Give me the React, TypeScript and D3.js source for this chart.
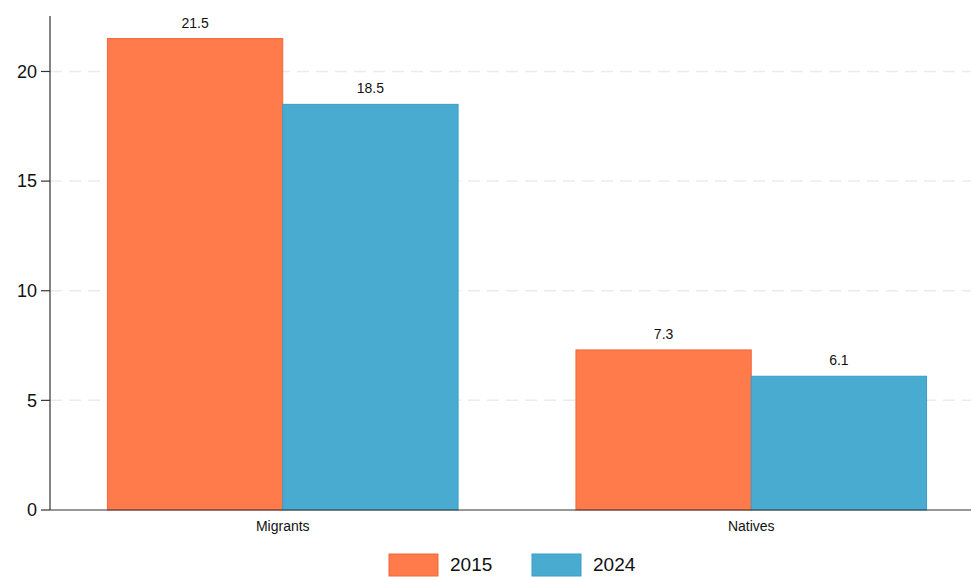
import React from "react";
import * as d3 from "d3";

const categories = ["Migrants", "Natives"];
const years = ["2015", "2024"];
const values2015 = [21.5, 7.3];
const values2024 = [18.5, 6.1];
const yTicks = [0, 5, 10, 15, 20];

const colors = ["#ff7b4b", "#4aabd0"];
const strokes = ["#f2673a", "#3a9dc4"];

const width = 971;
const height = 577;
const margin = { top: 16, right: -13, bottom: 67, left: 50 };

const App: React.FC = () => {
  const series = [values2015, values2024];

  const x = d3
    .scaleBand<string>()
    .domain(categories)
    .range([margin.left, width - margin.right])
    .paddingInner(0.2516)
    .paddingOuter(0.1226);

  const x1 = d3.scaleBand<string>().domain(years).range([0, x.bandwidth()]);

  const y = d3
    .scaleLinear()
    .domain([0, 22.53])
    .range([height - margin.bottom, margin.top]);

  const font = "Helvetica, Arial, 'Liberation Sans', sans-serif";

  return (
    <svg
      width={width}
      height={height}
      style={{ position: "absolute", left: 0, top: 0, background: "#fff" }}
      fontFamily={font}
    >
      {/* gridlines */}
      {yTicks
        .filter((t) => t > 0)
        .map((t) => (
          <line
            key={"g" + t}
            x1={margin.left}
            x2={width}
            y1={y(t)}
            y2={y(t)}
            stroke="#ebebeb"
            strokeWidth={1.5}
            strokeDasharray="12,7"
          />
        ))}

      {/* bars */}
      {categories.map((c, i) => (
        <g key={c} transform={`translate(${x(c)},0)`}>
          {years.map((yr, j) => {
            const v = series[j][i];
            return (
              <g key={yr}>
                <rect
                  x={x1(yr)}
                  y={y(v)}
                  width={x1.bandwidth()}
                  height={y(0) - y(v)}
                  fill={colors[j]}
                  stroke={strokes[j]}
                  strokeWidth={1}
                />
                <text
                  x={(x1(yr) as number) + x1.bandwidth() / 2}
                  y={y(v) - 11}
                  textAnchor="middle"
                  fontSize={14}
                  fill="#111"
                >
                  {v.toFixed(1)}
                </text>
              </g>
            );
          })}
        </g>
      ))}

      {/* y axis */}
      <line
        x1={margin.left}
        x2={margin.left}
        y1={margin.top}
        y2={y(0)}
        stroke="#333"
        strokeWidth={1.2}
      />
      {yTicks.map((t) => (
        <g key={"t" + t}>
          <line
            x1={margin.left - 9}
            x2={margin.left}
            y1={y(t)}
            y2={y(t)}
            stroke="#333"
            strokeWidth={1.2}
          />
          <text
            x={margin.left - 13}
            y={y(t)}
            dy="0.35em"
            textAnchor="end"
            fontSize={18}
            fill="#111"
          >
            {t}
          </text>
        </g>
      ))}

      {/* x axis */}
      <line
        x1={margin.left}
        x2={width}
        y1={y(0)}
        y2={y(0)}
        stroke="#333"
        strokeWidth={1.2}
      />
      {categories.map((c) => (
        <text
          key={"c" + c}
          x={(x(c) as number) + x.bandwidth() / 2}
          y={y(0) + 21}
          textAnchor="middle"
          fontSize={14}
          fill="#111"
        >
          {c}
        </text>
      ))}

      {/* legend */}
      {years.map((yr, j) => (
        <g key={"l" + yr} transform={`translate(${389 + j * 143},554)`}>
          <rect
            x={0}
            y={0}
            width={49}
            height={22}
            fill={colors[j]}
            stroke={strokes[j]}
            strokeWidth={1}
          />
          <text x={61} y={17} fontSize={19} fill="#111">
            {yr}
          </text>
        </g>
      ))}
    </svg>
  );
};

export default App;
